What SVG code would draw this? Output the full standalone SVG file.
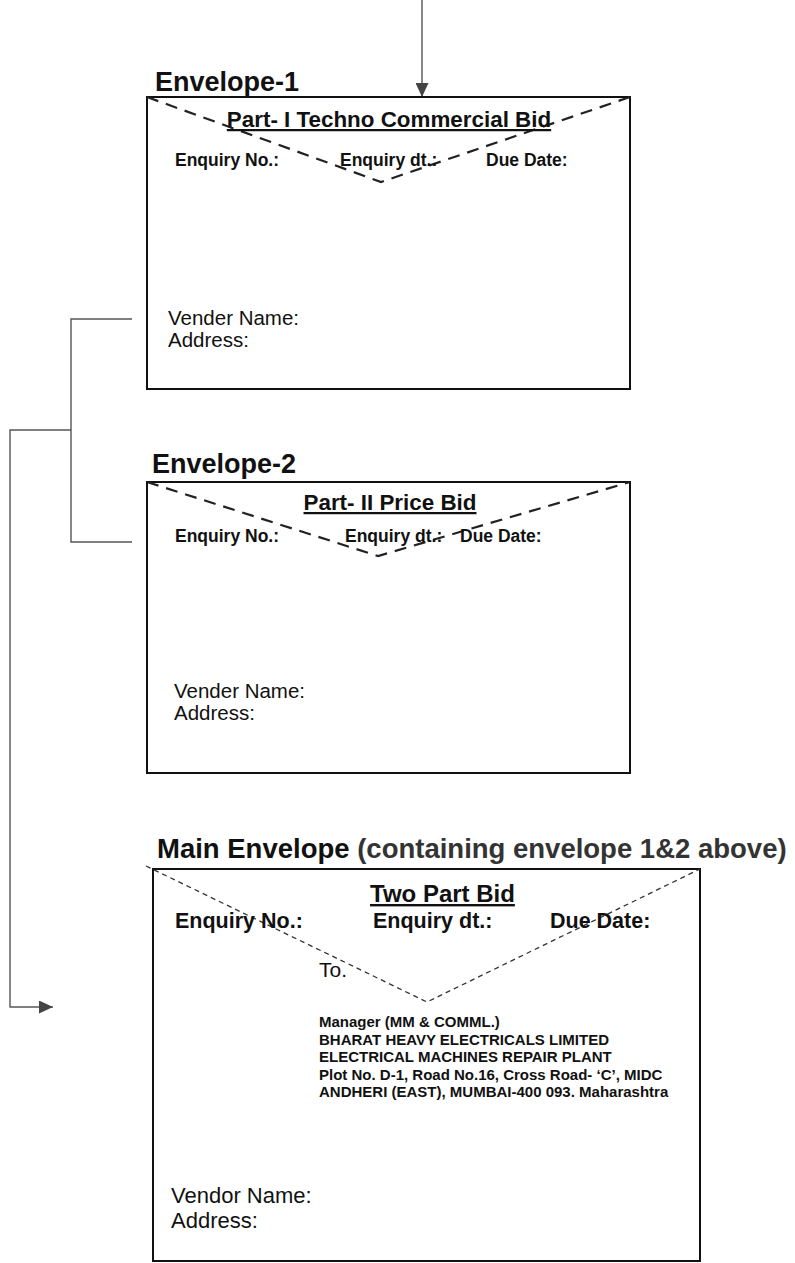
<svg xmlns="http://www.w3.org/2000/svg" width="795" height="1263" viewBox="0 0 795 1263">
<style>
  text { font-family: "Liberation Sans", Arial, sans-serif; fill: #111; }
  .lbl { font-size: 27px; font-weight: bold; }
  .ttl { font-size: 22.4px; font-weight: bold; text-decoration: underline; }
  .enq { font-size: 17.5px; font-weight: bold; }
  .ven { font-size: 20.5px; }
  .box { fill: none; stroke: #111; stroke-width: 2; }
  .flap { fill: none; stroke: #222; stroke-width: 2.2; stroke-dasharray: 12 8; }
  .flapm { fill: none; stroke: #333; stroke-width: 1.3; stroke-dasharray: 5 4; }
  .conn { fill: none; stroke: #555; stroke-width: 1.4; }
  .menq { font-size: 21.5px; font-weight: bold; }
  .mttl { font-size: 24px; font-weight: bold; text-decoration: underline; }
  .addr { font-size: 15px; font-weight: bold; }
  .mven { font-size: 22px; }
</style>
<defs>
  <marker id="arr" viewBox="0 0 14 13" refX="14" refY="6.5" markerWidth="14" markerHeight="13" markerUnits="userSpaceOnUse" orient="auto">
    <path d="M0,0 L14,6.5 L0,13 Z" fill="#444"/>
  </marker>
</defs>

<g id="connectors">
  <line class="conn" x1="422" y1="0" x2="422" y2="97" marker-end="url(#arr)"/>
  <polyline class="conn" points="132,319 71,319 71,542 132,542"/>
  <polyline class="conn" points="71,430 10,430 10,1007 53,1007" marker-end="url(#arr)"/>
</g>

<g id="envelope-1">
  <text class="lbl" x="155" y="91">Envelope-1</text>
  <rect class="box" x="147" y="97" width="483" height="292"/>
  <polyline class="flap" points="147,97 381,182 630,97"/>
  <text class="ttl" x="389" y="127" text-anchor="middle">Part- I Techno Commercial Bid</text>
  <text class="enq" x="175" y="166">Enquiry No.:</text>
  <text class="enq" x="340" y="166">Enquiry dt.:</text>
  <text class="enq" x="486" y="166">Due Date:</text>
  <text class="ven" x="168" y="325">Vender Name:</text>
  <text class="ven" x="168" y="347">Address:</text>
</g>

<g id="envelope-2">
  <text class="lbl" x="152" y="473">Envelope-2</text>
  <rect class="box" x="147" y="482" width="483" height="291"/>
  <polyline class="flap" points="147,482 378,556 630,482"/>
  <text class="ttl" x="390" y="510" text-anchor="middle">Part- II Price Bid</text>
  <text class="enq" x="175" y="542">Enquiry No.:</text>
  <text class="enq" x="345" y="542">Enquiry dt.:</text>
  <text class="enq" x="460" y="542">Due Date:</text>
  <text class="ven" x="174" y="698">Vender Name:</text>
  <text class="ven" x="174" y="720">Address:</text>
</g>

<g id="main-envelope">
  <text class="lbl" x="157" y="858" style="font-size:27.5px">Main Envelope <tspan style="fill:#333">(containing envelope 1&amp;2 above)</tspan></text>
  <rect class="box" x="153" y="869" width="547" height="392"/>
  <polyline class="flapm" points="146,866 427,1002 700,869"/>
  <text class="mttl" x="370" y="902">Two Part Bid</text>
  <text class="menq" x="175" y="928">Enquiry No.:</text>
  <text class="menq" x="373" y="928">Enquiry dt.:</text>
  <text class="menq" x="550" y="928">Due Date:</text>
  <text x="319" y="977" style="font-size:21px">To.</text>
  <text class="addr" x="319" y="1027">Manager (MM &amp; COMML.)</text>
  <text class="addr" x="319" y="1045">BHARAT HEAVY ELECTRICALS LIMITED</text>
  <text class="addr" x="319" y="1062">ELECTRICAL MACHINES REPAIR PLANT</text>
  <text class="addr" x="319" y="1080">Plot No. D-1, Road No.16, Cross Road- ‘C’, MIDC</text>
  <text class="addr" x="319" y="1097">ANDHERI (EAST), MUMBAI-400 093. Maharashtra</text>
  <text class="mven" x="171" y="1203">Vendor Name:</text>
  <text class="mven" x="171" y="1228">Address:</text>
</g>
</svg>
